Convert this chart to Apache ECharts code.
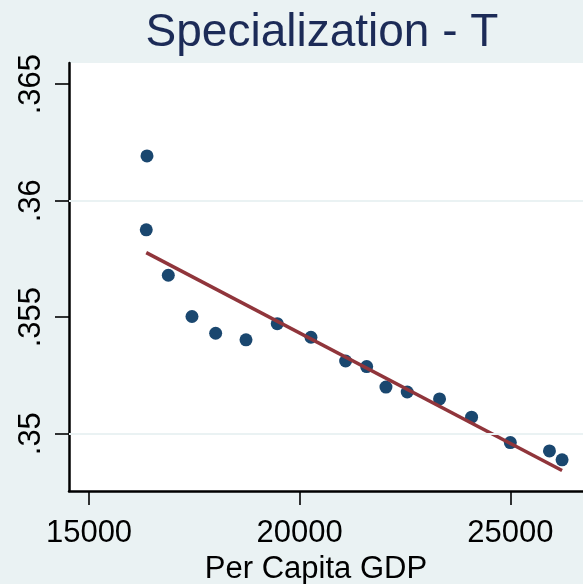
<!DOCTYPE html>
<html>
<head>
<meta charset="utf-8">
<script src="https://cdn.jsdelivr.net/npm/echarts@6/dist/echarts.min.js"></script>
<style>
  html, body { margin: 0; padding: 0; background: #EAF2F3; }
  #chart { width: 583px; height: 584px; }
</style>
</head>
<body>
<div id="chart"></div>
<script>
// Per capita GDP (x) and specialization index T (y), one point per observation
const gdp = [16376, 16359, 16882, 17444, 18006, 18726, 19468, 20268, 21091, 21590,
             22048, 22553, 23320, 24080, 25000, 25929, 26228];
const specT = [0.36192, 0.35875, 0.35680, 0.35503, 0.35431, 0.35403, 0.35472, 0.35414,
               0.35312, 0.35288, 0.35200, 0.35179, 0.35149, 0.35071, 0.34962, 0.34926, 0.34888];

// Linear fit drawn between its end points
const fitX = [16359, 26228];
const fitY = [0.35777, 0.34842];

// Axis ticks and horizontal grid lines
const xTicks = [15000, 20000, 25000];
const yTicks = [0.35, 0.355, 0.36, 0.365];
const yGrid = [0.35, 0.355, 0.36];

const font = 'Liberation Sans, Arial, sans-serif';
const chart = echarts.init(document.getElementById('chart'), null, { renderer: 'canvas' });

chart.setOption({
  backgroundColor: '#EAF2F3',
  animation: false,
  title: {
    text: 'Specialization - T',
    left: 322,
    top: 10,
    padding: 0,
    textAlign: 'center',
    textStyle: { fontFamily: font, fontSize: 46, fontWeight: 'normal', color: '#1C2B57' }
  },
  grid: {
    left: 69, right: 0, top: 63, bottom: 93,
    outerBoundsMode: 'none',
    containLabel: false,
    show: true, backgroundColor: '#FFFFFF', borderWidth: 0
  },
  xAxis: {
    type: 'value',
    min: 14525, max: 26725,
    name: 'Per Capita GDP',
    nameLocation: 'middle',
    nameGap: 59,
    nameTextStyle: { fontFamily: font, fontSize: 31, color: '#000', padding: [0, 20, 0, 0] },
    axisLine: { show: true, onZero: false, lineStyle: { color: '#000', width: 2.5 } },
    axisTick: { show: true, inside: false, length: 14, customValues: xTicks, lineStyle: { color: '#000', width: 1.6 } },
    axisLabel: { show: true, margin: 27, customValues: xTicks, fontFamily: font, fontSize: 31, color: '#000',
                 formatter: v => String(v) },
    splitLine: { show: false }
  },
  yAxis: {
    type: 'value',
    min: 0.34754, max: 0.36591,
    axisLine: { show: true, onZero: false, lineStyle: { color: '#000', width: 2.5 } },
    axisTick: { show: true, inside: false, length: 14, customValues: yTicks, lineStyle: { color: '#000', width: 1.6 } },
    axisLabel: { show: true, rotate: 90, margin: 22, customValues: yTicks, fontFamily: font, fontSize: 31, color: '#000',
                 formatter: v => String(+v.toFixed(3)).replace(/^0/, '') },
    splitLine: { show: false }
  },
  series: [
    {
      type: 'scatter',
      data: gdp.map((x, i) => [x, specT[i]]),
      symbol: 'circle',
      symbolSize: 13,
      itemStyle: { color: '#1A476F', opacity: 1 },
      z: 3,
      markLine: {
        silent: true,
        symbol: 'none',
        label: { show: false },
        lineStyle: { color: '#EAF2F3', width: 2, type: 'solid' },
        data: yGrid.map(v => ({ yAxis: v }))
      }
    },
    {
      type: 'line',
      data: fitX.map((x, i) => [x, fitY[i]]),
      symbol: 'none',
      lineStyle: { color: '#90353B', width: 3.5 },
      z: 4
    }
  ]
});
</script>
</body>
</html>
